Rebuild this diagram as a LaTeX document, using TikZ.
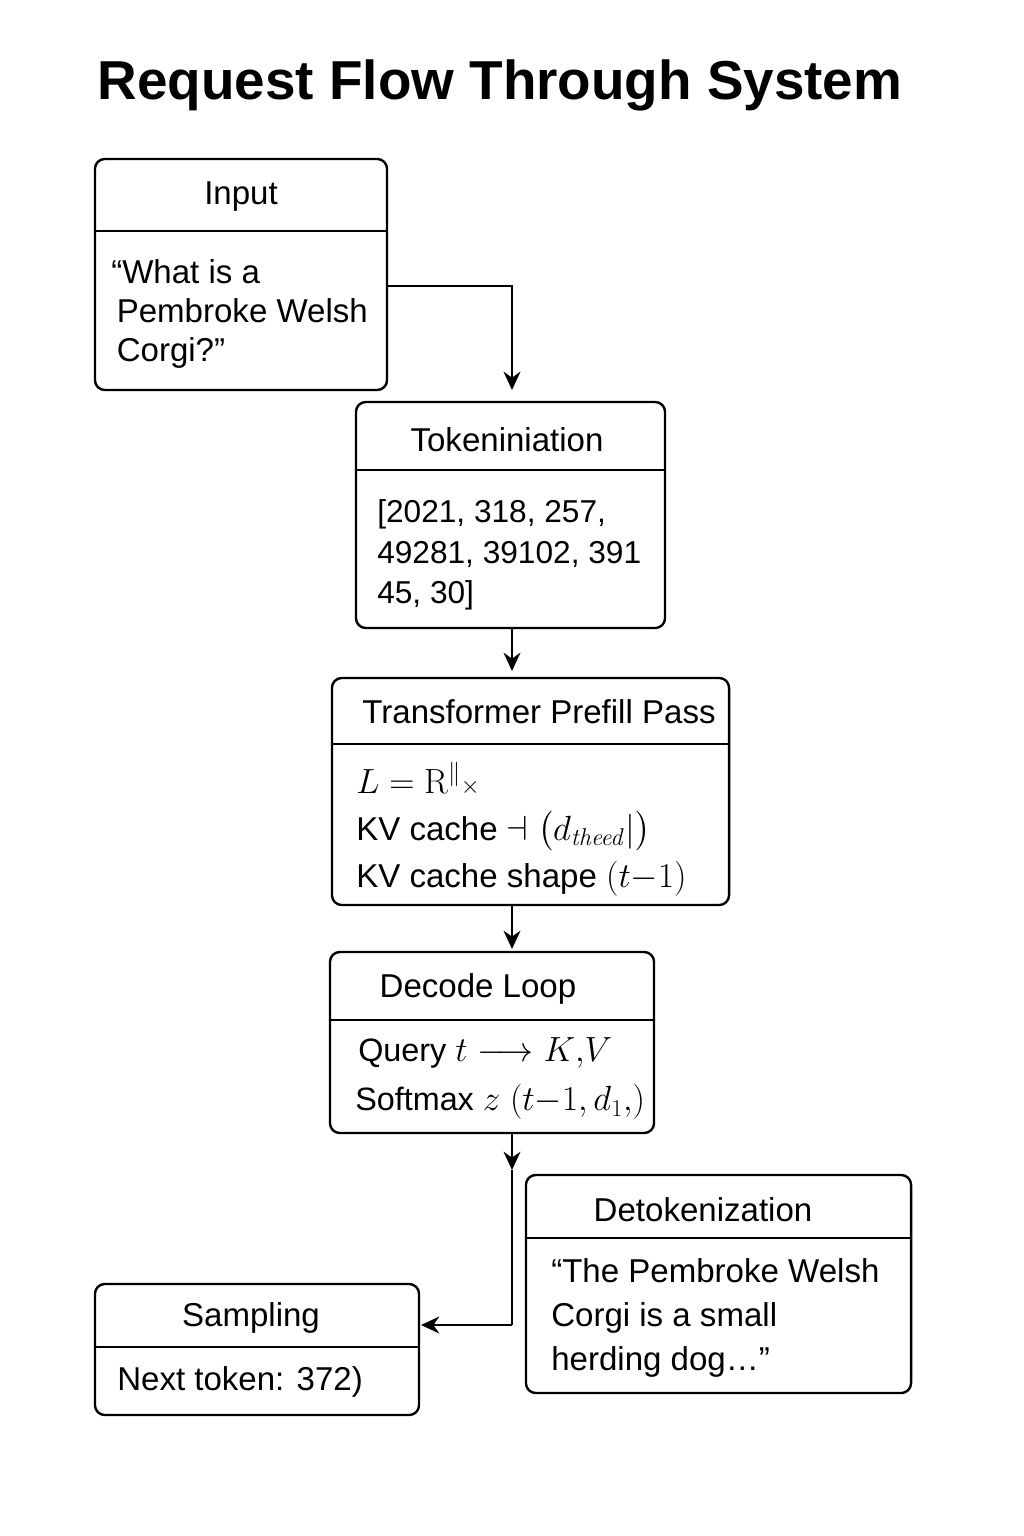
\documentclass[tikz,border=0pt]{standalone}
\usepackage{amsmath,amssymb}
\usepackage[no-math]{fontspec}
\setmainfont{Liberation Sans}
\usetikzlibrary{arrows.meta}
\tikzset{
  box/.style={draw, line width=1.7pt, rounded corners=7pt, inner sep=0pt},
  divider/.style={line width=1.7pt},
  boxtitle/.style={inner sep=0pt, font=\fontsize{23.5}{28}\selectfont},
  boxbody/.style={inner sep=0pt, align=left, anchor=west, font=\fontsize{23}{28.5}\selectfont},
  conn/.style={line width=1.7pt, -{Stealth[length=13pt,width=12pt]}},
  plain/.style={line width=1.7pt}
}
\begin{document}
\begin{tikzpicture}[x=0.025cm, y=-0.025cm]
\useasboundingbox (0,0) rectangle (1024,1536);
\fill[white] (0,0) rectangle (1024,1536);

\node[inner sep=0pt, font=\fontsize{39}{44}\selectfont\bfseries] (title) at (500,85) {Request Flow Through System};

% Input
\node[box, minimum width=7.3cm, minimum height=5.775cm] (input) at (241,274.5) {};
\draw[divider] (input.west |- 0,231) -- (input.east |- 0,231);
\node[boxtitle] (inputT) at (241,197) {Input};
\node[boxbody, font=\fontsize{23.5}{28}\selectfont] (inputB) at (111,314) {“What is a\\ \,Pembroke Welsh\\ \,Corgi?”};

% Tokenization
\node[box, minimum width=7.725cm, minimum height=5.65cm] (tok) at (510.5,515) {};
\draw[divider] (tok.west |- 0,470) -- (tok.east |- 0,470);
\node[boxtitle] (tokT) at (507,440) {Tokeniniation};
\node[boxbody, font=\fontsize{22.5}{29}\selectfont] (tokB) at (377,555) {[2021, 318, 257,\\ 49281, 39102, 391\\ 45, 30]};

% Transformer
\node[box, minimum width=9.925cm, minimum height=5.675cm] (trans) at (530.5,791.5) {};
\draw[divider] (trans.west |- 0,744) -- (trans.east |- 0,744);
\node[boxtitle] (transT) at (539,712) {Transformer Prefill Pass};
\node[boxbody, font=\fontsize{23.5}{33.5}\selectfont] (transB) at (356,829) {$L = \mathrm{R}^{\Vert}{\scriptstyle\times}$\\ KV cache $\dashv\bigl(d_{\mathit{theed}}|\bigr)$\\ KV cache shape $(t{-}1)$};

% Decode
\node[box, minimum width=8.1cm, minimum height=4.525cm] (dec) at (492,1042.5) {};
\draw[divider] (dec.west |- 0,1020) -- (dec.east |- 0,1020);
\node[boxtitle] (decT) at (478,989) {Decode Loop};
\node[boxbody, font=\fontsize{23}{28}\selectfont] (decB1) at (358,1053) {Query $t \longrightarrow K{,}V$};
\node[boxbody, font=\fontsize{23}{28}\selectfont] (decB2) at (355,1102) {Softmax $z\;(t{-}1{,}\,d_{1}{,})$};

% Detokenization
\node[box, minimum width=9.625cm, minimum height=5.45cm] (detok) at (718.5,1284) {};
\draw[divider] (detok.west |- 0,1238) -- (detok.east |- 0,1238);
\node[boxtitle] (detokT) at (703,1210) {Detokenization};
\node[boxbody, font=\fontsize{23.5}{31}\selectfont] (detokB) at (551,1318) {“The Pembroke Welsh\\ Corgi is a small\\ herding dog…”};

% Sampling
\node[box, minimum width=8.1cm, minimum height=3.275cm] (samp) at (257,1349.5) {};
\draw[divider] (samp.west |- 0,1347) -- (samp.east |- 0,1347);
\node[boxtitle] (sampT) at (251,1318) {Sampling};
\node[boxbody, font=\fontsize{23.5}{28}\selectfont] (sampB) at (117,1382) {Next token: 372)};

% connectors
\coordinate (inTurn) at (512,286);
\coordinate (tokIn) at (512,390);
\draw[conn] (input.east |- inTurn) -- (inTurn) -- (tokIn);
\coordinate (transIn) at (512,671);
\draw[conn] (tok.south -| transIn) -- (transIn);
\coordinate (decIn) at (512,949);
\draw[conn] (trans.south -| decIn) -- (decIn);
\coordinate (mid) at (512,1170);
\coordinate (turn) at (512,1325);
\coordinate (sampIn) at (421,1325);
\draw[conn] (dec.south -| mid) -- (mid);
\draw[plain] (mid) -- (turn);
\draw[conn] (turn) -- (sampIn);
\end{tikzpicture}
\end{document}
